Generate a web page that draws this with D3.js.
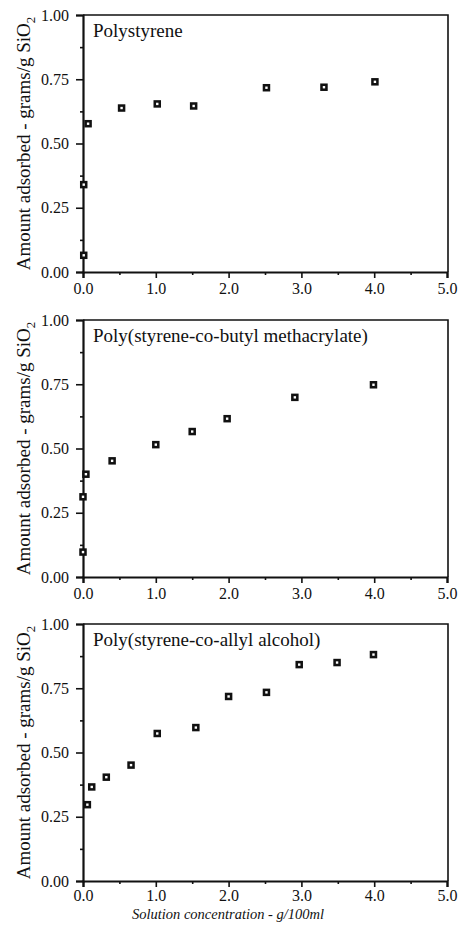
<!DOCTYPE html>
<html>
<head>
<meta charset="utf-8">
<script src="https://cdn.jsdelivr.net/npm/d3@7"></script>
<style>
  body { margin: 0; background: #fff; }
  svg text { font-family: "Liberation Serif", Tinos, "Times New Roman", "DejaVu Serif", serif; fill: #111; }
</style>
</head>
<body>
<div id="chart"></div>
<script>
// data (x = g/100ml, y = g/g SiO2)
var titles = ["Polystyrene", "Poly(styrene-co-butyl methacrylate)", "Poly(styrene-co-allyl alcohol)"];

var psX = [0.01, 0.01, 0.07, 0.53, 1.02, 1.52, 2.52, 3.31, 4.01];
var psY = [0.065, 0.34, 0.577, 0.638, 0.654, 0.646, 0.717, 0.719, 0.74];

var sbmaX = [0.0, 0.0, 0.04, 0.40, 1.0, 1.50, 1.98, 2.91, 3.99];
var sbmaY = [0.097, 0.312, 0.40, 0.452, 0.515, 0.566, 0.616, 0.699, 0.748];

var saaX = [0.06, 0.12, 0.32, 0.66, 1.02, 1.55, 2.0, 2.52, 2.97, 3.49, 3.99];
var saaY = [0.297, 0.366, 0.404, 0.451, 0.574, 0.597, 0.718, 0.734, 0.842, 0.85, 0.881];

var xTicks = [0, 1, 2, 3, 4, 5];
var xMinor = [0.5, 1.5, 2.5, 3.5, 4.5];
var yTicks = [0, 0.25, 0.5, 0.75, 1.0];
var yMinor = [0.125, 0.375, 0.625, 0.875];

var series = [[psX, psY], [sbmaX, sbmaY], [saaX, saaY]];

// layout
var W = 458, H = 930;
var left = 83, right = 447;
var tops = [15, 320, 624];
var ph = 257;

var svg = d3.select("#chart")
  .append("svg")
    .attr("width", W)
    .attr("height", H);

var x = d3.scaleLinear().domain([0, 5]).range([left, right]);

series.forEach(function(s, i) {
  var top = tops[i];
  var y = d3.scaleLinear().domain([0, 1]).range([top + ph, top]);
  var g = svg.append("g");

  // frame top and right
  g.append("path")
    .attr("d", "M" + left + "," + top + "H" + (right + 1) + "V" + (top + ph))
    .attr("fill", "none")
    .attr("stroke", "#111")
    .attr("stroke-width", 1.6);

  // x axis
  g.append("g")
    .attr("transform", "translate(0," + (top + ph) + ")")
    .call(d3.axisBottom(x).tickValues(xTicks).tickFormat(d3.format(".1f"))
      .tickSize(6).tickPadding(i == 2 ? 3 : 5));
  g.append("g")
    .attr("transform", "translate(0," + (top + ph) + ")")
    .call(d3.axisBottom(x).tickValues(xMinor).tickFormat("").tickSize(3))
    .select(".domain").remove();

  // y axis
  g.append("g")
    .attr("transform", "translate(" + left + ",0)")
    .call(d3.axisLeft(y).tickValues(yTicks).tickFormat(d3.format(".2f"))
      .tickSize(7).tickPadding(7));
  g.append("g")
    .attr("transform", "translate(" + left + ",0)")
    .call(d3.axisLeft(y).tickValues(yMinor).tickFormat("").tickSize(3))
    .select(".domain").remove();

  g.selectAll("g").attr("font-family", null);
  g.selectAll(".domain").attr("stroke", "#111").attr("stroke-width", 2.2);
  g.selectAll(".tick line").attr("stroke", "#111").attr("stroke-width", 1.6);
  g.selectAll(".tick text").style("font-size", "16px").attr("fill", "#111");

  // panel title
  g.append("text")
    .attr("x", 93)
    .attr("y", top + 22)
    .style("font-size", "19px")
    .text(titles[i]);

  // y title
  var yt = g.append("text")
    .attr("transform", "translate(30," + (top + ph / 2) + ") rotate(-90)")
    .attr("text-anchor", "middle")
    .style("font-size", "19px");
  yt.append("tspan").text("Amount adsorbed - grams/g SiO");
  yt.append("tspan").attr("dy", 5).style("font-size", "13px").text("2");

  // markers
  var pts = s[0].map(function(v, k) { return {x: v, y: s[1][k]}; });
  var m = g.selectAll(".pt").data(pts).enter().append("g")
    .attr("transform", function(d) { return "translate(" + x(d.x) + "," + y(d.y) + ")"; });
  m.append("rect")
    .attr("x", -3.75).attr("y", -3.75)
    .attr("width", 7.5).attr("height", 7.5)
    .attr("fill", "#111");
  m.append("rect")
    .attr("x", -1.2).attr("y", -1.2)
    .attr("width", 2.4).attr("height", 2.4)
    .attr("fill", "#fff");
});

// x title
svg.append("text")
  .attr("x", 228)
  .attr("y", 919)
  .attr("text-anchor", "middle")
  .style("font-size", "14.5px")
  .style("font-style", "italic")
  .text("Solution concentration - g/100ml");
</script>
</body>
</html>
